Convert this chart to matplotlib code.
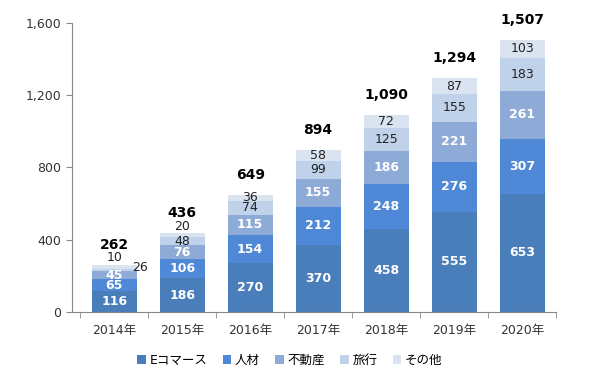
import matplotlib.pyplot as plt
import numpy as np

plt.rcParams['font.family'] = ['DejaVu Sans', 'Noto Sans CJK JP']

# -- data --
years = ['2014年', '2015年', '2016年', '2017年', '2018年', '2019年', '2020年']
series = ['Eコマース', '人材', '不動産', '旅行', 'その他']
ecommerce = [116, 186, 270, 370, 458, 555, 653]
jinzai = [65, 106, 154, 212, 248, 276, 307]
fudosan = [45, 76, 115, 155, 186, 221, 261]
ryoko = [10, 48, 74, 99, 125, 155, 183]
sonota = [26, 20, 36, 58, 72, 87, 103]
totals = [262, 436, 649, 894, 1090, 1294, 1507]

colors = ['#4a7ebb', '#4f88d6', '#8eaad6', '#c0d2ea', '#dae3f0']
label_white = [True, True, True, False, False]

vals = np.array([ecommerce, jinzai, fudosan, ryoko, sonota])
x = np.arange(len(years))

fig = plt.figure(figsize=(6, 3.88), dpi=100)
ax = fig.add_axes([0.12, 0.196, 0.807, 0.745])

bottom = np.zeros(len(years))
for i, name in enumerate(series):
    ax.bar(x, vals[i], 0.66, bottom=bottom, color=colors[i], label=name)
    for j in range(len(years)):
        xx = x[j]
        yy = bottom[j] + vals[i][j] / 2
        # small segments in the first years are moved out of the bar
        if i == 3 and j == 0:
            yy = 300
        if i == 4 and j == 0:
            xx, yy = x[j] + 0.38, 244
        if i == 4 and j == 1:
            yy = 475
        if label_white[i]:
            ax.text(xx, yy, f'{vals[i][j]:,}', ha='center', va='center',
                    color='white', fontsize=9, fontweight='bold')
        else:
            ax.text(xx, yy, f'{vals[i][j]:,}', ha='center', va='center',
                    color='#222222', fontsize=9)
    bottom += vals[i]

for j in range(len(years)):
    ax.text(x[j], totals[j] + 72, f'{totals[j]:,}', ha='center', va='bottom',
            fontsize=10, fontweight='bold', color='black')

ax.set_ylim(0, 1600)
ax.set_xlim(-0.62, 6.5)
ax.set_yticks([0, 400, 800, 1200, 1600])
ax.set_yticklabels(['0', '400', '800', '1,200', '1,600'])
ax.set_xticks(x)
ax.set_xticklabels(years)
ax.set_xticks(np.arange(-0.5, 6.6, 1), minor=True)
ax.tick_params(axis='x', which='major', length=0, pad=9, labelsize=9, colors='#333333')
ax.tick_params(axis='x', which='minor', length=4, color='#888888')
ax.tick_params(axis='y', length=4, color='#888888', labelsize=9, labelcolor='#333333')
for s in ['top', 'right']:
    ax.spines[s].set_visible(False)
ax.spines['left'].set_color('#888888')
ax.spines['bottom'].set_color('#888888')

ax.legend(loc='upper center', bbox_to_anchor=(0.45, -0.105), ncol=5, frameon=False,
          fontsize=9, handlelength=0.7, handleheight=0.7, handletextpad=0.3,
          columnspacing=1.2)

fig.savefig('out.png', dpi=100)
